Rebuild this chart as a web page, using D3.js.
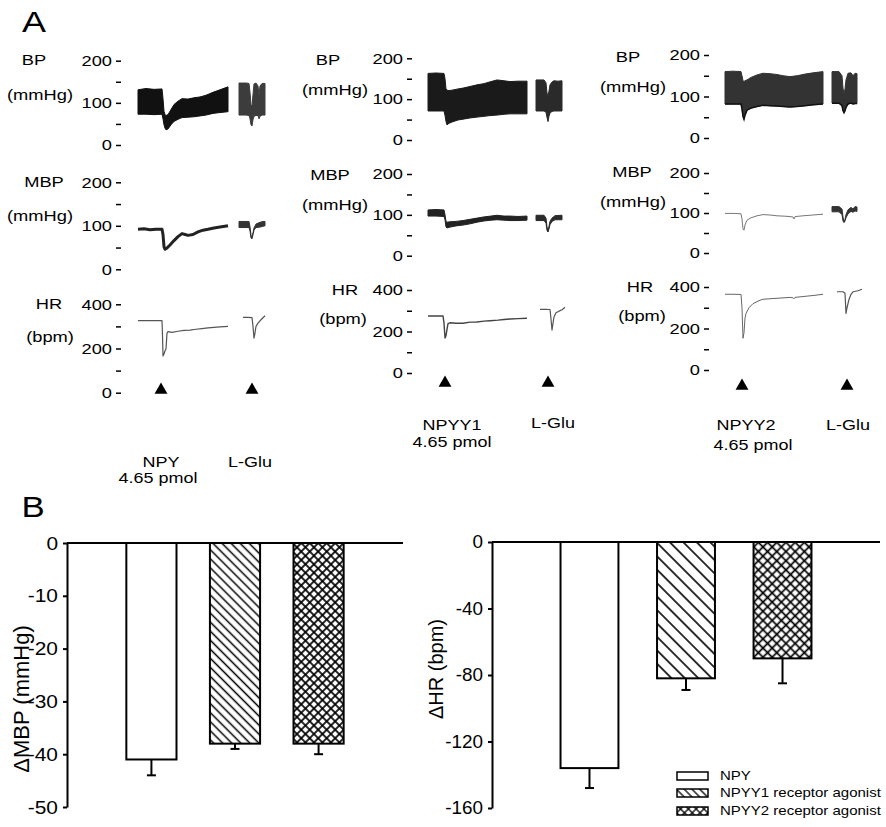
<!DOCTYPE html>
<html>
<head>
<meta charset="utf-8">
<script src="https://cdn.jsdelivr.net/npm/d3@7"></script>
<style>
  body { margin: 0; background: #fff; }
  svg { display: block; font-family: "Liberation Sans", Arial, sans-serif; }
</style>
</head>
<body>
<div id="chart"></div>
<script>
// ---------- Panel A: recordings (time in arbitrary units, values in mmHg / bpm) ----------
// BP traces are bands: [t, systolic, diastolic]
const bp1Main = [[0,131,73],[8,134,73],[16,132,72],[24,133,73],[25,110,62],[26,80,48],[27,72,40],[28,70,36],[30,72,38],[33,84,48],[36,96,56],[40,104,61],[44,110,65],[50,109,66],[56,112,67],[62,114,69],[68,118,71],[75,125,75],[82,131,77],[90,138,79]];
const bp1Glu = [[101,147,71],[108,147,71],[111,146,70],[112,125,62],[113,95,48],[114,92,45],[115,120,60],[116,145,68],[118,147,70],[120,140,70],[121,118,62],[122,140,68],[124,146,71],[127,146,71]];
const mbp1Main = [[0,92],[6,93],[12,91],[18,92],[24,92],[25,80],[26,52],[27,46],[29,49],[32,56],[36,66],[40,75],[44,82],[47,80],[50,78],[55,80],[60,86],[65,90],[70,92],[76,95],[82,97],[90,100]];
const mbp1Glu = [[101,110,96],[111,110,96],[112,98,88],[113,78,72],[114,74,70],[115,84,80],[116,95,90],[118,104,96],[122,108,97],[125,110,99],[127,110,100]];
const hr1Main = [[0,326],[12,326],[24,326],[24.5,260],[25,166],[26,175],[27,190],[28,198],[29,270],[30,276],[34,273],[40,278],[46,282],[52,283],[58,287],[64,290],[70,293],[76,296],[82,298],[90,300]];
const hr1Glu = [[105,341],[110,341],[114,340],[115,300],[116,247],[117,270],[118,300],[120,315],[123,330],[127,348]];

const bp2Main = [[0,163,71],[8,164,71],[16,163,71],[17,150,60],[18,125,45],[19,122,37],[21,121,41],[24,122,44],[30,125,49],[35,127,51],[42,131,54],[49,135,56],[56,138,58],[63,143,60],[69,147,61],[76,145,63],[82,143,64],[90,144,64],[99,144,64]];
const bp2Glu = [[108,147,71],[116,147,71],[118,140,68],[119,115,55],[120,108,45],[121,120,58],[122,135,66],[124,142,70],[126,145,71],[130,144,71],[134,145,71]];
const mbp2Main = [[0,112,97],[8,113,97],[16,112,96],[17,100,88],[18,84,70],[19,82,68],[22,83,70],[28,84,73],[35,86,75],[42,89,78],[49,92,82],[56,95,85],[63,97,87],[69,99,88],[76,97,87],[82,97,86],[90,96,86],[99,97,87]];
const mbp2Glu = [[108,99,86],[116,99,86],[118,92,80],[119,70,62],[120,60,58],[121,72,66],[122,84,76],[124,92,84],[127,98,88],[134,99,88]];
const hr2Main = [[0,275],[8,275],[15,275],[16,240],[17,169],[18,180],[19,210],[20,238],[22,242],[28,240],[35,240],[42,245],[49,246],[56,250],[62,252],[70,255],[76,258],[82,260],[90,262],[99,264]];
const hr2Glu = [[112,307],[118,307],[122,306],[123,260],[124,207],[125,240],[126,270],[128,290],[131,298],[134,305],[137,317]];

const bp3Main = [[0,160,82],[8,161,82],[16,160,82],[17,150,70],[18,138,52],[19,136,45],[20,138,55],[22,140,67],[26,146,72],[32,152,76],[38,156,79],[45,155,78],[52,153,77],[58,150,76],[65,148,75],[72,150,76],[80,154,78],[88,157,80],[98,160,82]];
const bp3Glu = [[107,160,84],[114,160,84],[117,150,78],[118,120,66],[119,108,61],[120,118,66],[121,140,74],[123,156,82],[126,157,84],[128,150,82],[130,156,83],[132,155,83]];
const mbp3Main = [[0,99],[8,99],[16,98],[17,85],[18,60],[19,57],[20,70],[22,82],[26,88],[32,93],[38,96],[45,95],[52,93],[60,92],[65,91],[68,90],[69,85],[70,91],[78,93],[88,95],[98,97]];
const mbp3Glu = [[107,116,103],[114,116,103],[117,110,96],[118,90,80],[119,78,76],[120,84,80],[121,96,88],[123,108,98],[126,114,104],[128,110,102],[130,116,105],[132,115,104]];
const hr3Main = [[0,365],[8,365],[16,364],[17,300],[18,153],[19,180],[20,250],[21,273],[24,300],[28,320],[34,334],[38,341],[50,345],[65,350],[68,348],[69,343],[70,350],[80,355],[90,360],[98,365]];
const hr3Glu = [[112,377],[118,377],[120,370],[121,273],[122,300],[124,340],[126,365],[128,377],[133,382],[137,389]];

const pressureTicks = [0, 50, 100, 150, 200];
const pressureMajor = [0, 100, 200];
const hrTicks = [0, 100, 200, 300, 400];
const hrMajor = [0, 200, 400];

// ---------- Panel B: mean changes ----------
const groups = ['NPY', 'NPYY1 receptor agonist', 'NPYY2 receptor agonist'];
const dMbp = [-41, -38, -38];
const dMbpErr = [3, 1, 2];
const dHr = [-136, -82, -70];
const dHrErr = [12, 7, 15];
const mbpTicks = [0, -10, -20, -30, -40, -50];
const hrBarTicks = [0, -40, -80, -120, -160];

const SX = 1.2; // the source figure's lettering is a bit wider than Arial

const svg = d3.select('#chart').append('svg')
  .attr('width', 886).attr('height', 827);

function label(g, s, x, y, size, anchor, sx) {
  return g.append('text')
    .attr('transform', `translate(${x},${y}) scale(${sx || SX},1)`)
    .attr('text-anchor', anchor || 'middle')
    .attr('dy', '0.35em')
    .style('font-size', size + 'px')
    .text(s);
}

// ---------- Panel A ----------
const columns = [
  {
    x0: 138, axisX: 121,
    rows: { bp: [145, 60.7], mbp: [269.3, 182.3], hr: [392.7, 304.3] },
    traces: [
      { row: 'bp', band: true, data: bp1Main, color: '#111' },
      { row: 'bp', band: true, data: bp1Glu, color: '#3c3c3c' },
      { row: 'mbp', band: false, data: mbp1Main, color: '#222', w: 3 },
      { row: 'mbp', band: true, data: mbp1Glu, color: '#333' },
      { row: 'hr', band: false, data: hr1Main, color: '#555', w: 1.2 },
      { row: 'hr', band: false, data: hr1Glu, color: '#555', w: 1.2 }
    ],
    marks: [23, 114], markY: 390,
    rowLabels: [['BP', 34, 60], ['(mmHg)', 40, 95], ['MBP', 44, 182], ['(mmHg)', 40, 216], ['HR', 49, 304], ['(bpm)', 50, 337]],
    notes: [['NPY', 161, 462], ['4.65 pmol', 158, 478], ['L-Glu', 250, 462]]
  },
  {
    x0: 428, axisX: 412,
    rows: { bp: [140, 58.3], mbp: [255.7, 174], hr: [373, 290] },
    traces: [
      { row: 'bp', band: true, data: bp2Main, color: '#1a1a1a' },
      { row: 'bp', band: true, data: bp2Glu, color: '#2a2a2a' },
      { row: 'mbp', band: true, data: mbp2Main, color: '#222' },
      { row: 'mbp', band: true, data: mbp2Glu, color: '#2a2a2a' },
      { row: 'hr', band: false, data: hr2Main, color: '#444', w: 1.4 },
      { row: 'hr', band: false, data: hr2Glu, color: '#555', w: 1.2 }
    ],
    marks: [17, 120], markY: 383,
    rowLabels: [['BP', 328, 60], ['(mmHg)', 335, 90], ['MBP', 330, 175], ['(mmHg)', 335, 205], ['HR', 345, 290], ['(bpm)', 343, 319]],
    notes: [['NPYY1', 452, 425], ['4.65 pmol', 452, 442], ['L-Glu', 553, 423]]
  },
  {
    x0: 725, axisX: 709,
    rows: { bp: [138, 55], mbp: [253, 173], hr: [370, 287] },
    traces: [
      { row: 'bp', band: true, data: bp3Main, color: '#333', edge: '#111' },
      { row: 'bp', band: true, data: bp3Glu, color: '#333', edge: '#111' },
      { row: 'mbp', band: false, data: mbp3Main, color: '#777', w: 1 },
      { row: 'mbp', band: true, data: mbp3Glu, color: '#333' },
      { row: 'hr', band: false, data: hr3Main, color: '#666', w: 1 },
      { row: 'hr', band: false, data: hr3Glu, color: '#555', w: 1.2 }
    ],
    marks: [17, 122], markY: 386,
    rowLabels: [['BP', 628, 57], ['(mmHg)', 633, 87], ['MBP', 632, 172], ['(mmHg)', 633, 202], ['HR', 640, 287], ['(bpm)', 642, 316]],
    notes: [['NPYY2', 746, 425], ['4.65 pmol', 753, 445], ['L-Glu', 848, 425]]
  }
];

const panelA = svg.append('g');
label(panelA, 'A', 34, 21, 30, 'middle');

columns.forEach(col => {
  const g = panelA.append('g');
  const x = d3.scaleLinear().domain([0, 138]).range([col.x0, col.x0 + 138]);
  const y = {
    bp: d3.scaleLinear().domain([0, 200]).range(col.rows.bp),
    mbp: d3.scaleLinear().domain([0, 200]).range(col.rows.mbp),
    hr: d3.scaleLinear().domain([0, 400]).range(col.rows.hr)
  };

  // axes: labelled major ticks, bare minor ticks, no axis line
  ['bp', 'mbp', 'hr'].forEach(r => {
    const ticks = r === 'hr' ? hrTicks : pressureTicks;
    const major = r === 'hr' ? hrMajor : pressureMajor;
    const ax = g.append('g')
      .attr('transform', `translate(${col.axisX},0)`)
      .call(d3.axisLeft(y[r]).tickValues(ticks).tickSize(5).tickPadding(4)
        .tickFormat(d => major.includes(d) ? String(d) : ''));
    ax.select('.domain').remove();
    ax.selectAll('.tick line').attr('stroke', '#000').attr('stroke-width', 1.5);
    ax.selectAll('.tick text')
      .attr('x', -9 / 1.22).attr('transform', 'scale(1.22,1)')
      .style('font-size', '15px').attr('fill', '#000')
      .style('font-family', '"Liberation Sans", Arial, sans-serif');
  });

  col.traces.forEach(tr => {
    const yy = y[tr.row];
    if (tr.band) {
      g.append('path').datum(tr.data)
        .attr('d', d3.area().x(d => x(d[0])).y0(d => yy(d[2])).y1(d => yy(d[1])))
        .attr('fill', tr.color).attr('stroke', tr.color).attr('stroke-width', 1);
      if (tr.edge) {
        g.append('path').datum(tr.data)
          .attr('d', d3.line().x(d => x(d[0])).y(d => yy(d[2])))
          .attr('fill', 'none').attr('stroke', tr.edge).attr('stroke-width', 1.5);
      }
    } else {
      g.append('path').datum(tr.data)
        .attr('d', d3.line().x(d => x(d[0])).y(d => yy(d[1])))
        .attr('fill', 'none').attr('stroke', tr.color)
        .attr('stroke-width', tr.w).attr('stroke-linejoin', 'round');
    }
  });

  g.selectAll('path.mark').data(col.marks).join('path')
    .attr('class', 'mark')
    .attr('transform', d => `translate(${x(d)},${col.markY})`)
    .attr('d', d3.symbol(d3.symbolTriangle, 72))
    .attr('fill', '#000');

  col.rowLabels.forEach(([s, lx, ly]) => label(g, s, lx, ly, 15, 'middle', 1.22));
  col.notes.forEach(([s, lx, ly]) => label(g, s, lx, ly, 15, 'middle', 1.2));
});

// ---------- Panel B ----------
const panelB = svg.append('g');
label(panelB, 'B', 33, 507, 29, 'middle');

const defs = svg.append('defs');
function hatch(id, s, cross, w) {
  const p = defs.append('pattern').attr('id', id)
    .attr('patternUnits', 'userSpaceOnUse')
    .attr('width', s).attr('height', s)
    .attr('patternTransform', 'rotate(45)');
  p.append('rect').attr('width', s).attr('height', s).attr('fill', '#fff');
  p.append('line').attr('x1', 0).attr('x2', s).attr('y1', s / 2).attr('y2', s / 2)
    .attr('stroke', '#000').attr('stroke-width', w);
  if (cross) {
    p.append('line').attr('y1', 0).attr('y2', s).attr('x1', s / 2).attr('x2', s / 2)
      .attr('stroke', '#000').attr('stroke-width', w);
  }
}
hatch('diagL', 6.4, false, 1.5);
hatch('crossL', 6, true, 1.7);
hatch('diagR', 9.5, false, 1.6);
hatch('crossR', 6.5, true, 1.7);
hatch('diagS', 5.5, false, 1.3);
hatch('crossS', 5.5, true, 1.3);

function barChart(opt) {
  const g = panelB.append('g');
  const x = d3.scaleBand().domain(groups).range(opt.xr)
    .paddingInner(0.4).paddingOuter(0.71);
  const y = d3.scaleLinear().domain(opt.domain).range(opt.yr);

  const ax = g.append('g').attr('transform', `translate(${opt.xr[0]},0)`)
    .call(d3.axisLeft(y).tickValues(opt.ticks).tickSize(4).tickSizeOuter(0).tickPadding(5)
      .tickFormat(d => String(d)));
  ax.select('.domain').attr('stroke-width', 2);
  ax.selectAll('.tick line').attr('stroke-width', 2);
  ax.selectAll('.tick text')
    .attr('x', -9 / opt.sx).attr('transform', `scale(${opt.sx},1)`)
    .style('font-size', opt.font + 'px')
    .style('font-family', '"Liberation Sans", Arial, sans-serif');

  g.selectAll('rect.bar').data(groups).join('rect')
    .attr('class', 'bar')
    .attr('x', d => x(d)).attr('width', x.bandwidth())
    .attr('y', y(0)).attr('height', (d, i) => y(opt.values[i]) - y(0))
    .attr('fill', (d, i) => opt.fills[i])
    .attr('stroke', '#000').attr('stroke-width', 2);

  const eb = g.selectAll('g.err').data(groups).join('g').attr('class', 'err');
  eb.append('line')
    .attr('x1', d => x(d) + x.bandwidth() / 2).attr('x2', d => x(d) + x.bandwidth() / 2)
    .attr('y1', (d, i) => y(opt.values[i])).attr('y2', (d, i) => y(opt.values[i] - opt.errs[i]))
    .attr('stroke', '#000').attr('stroke-width', 2);
  eb.append('line')
    .attr('x1', d => x(d) + x.bandwidth() / 2 - opt.cap).attr('x2', d => x(d) + x.bandwidth() / 2 + opt.cap)
    .attr('y1', (d, i) => y(opt.values[i] - opt.errs[i])).attr('y2', (d, i) => y(opt.values[i] - opt.errs[i]))
    .attr('stroke', '#000').attr('stroke-width', 2);

  g.append('line')
    .attr('x1', opt.xr[0]).attr('x2', opt.xr[1])
    .attr('y1', y(0)).attr('y2', y(0))
    .attr('stroke', '#000').attr('stroke-width', 2);

  g.append('text')
    .attr('transform', `translate(${opt.labelX},${opt.labelY}) rotate(-90)`)
    .attr('text-anchor', 'middle').attr('dy', '0.35em')
    .style('font-size', opt.labelFont + 'px')
    .text(opt.title);
  return { g, x, y };
}

barChart({
  xr: [67, 403], yr: [807, 543], domain: [-50, 0], ticks: mbpTicks,
  values: dMbp, errs: dMbpErr, fills: ['#fff', 'url(#diagL)', 'url(#crossL)'],
  cap: 4.5, font: 19, sx: 1.1,
  title: '\u0394MBP (mmHg)', labelX: 21, labelY: 699, labelFont: 22
});

barChart({
  xr: [492, 880], yr: [808, 542], domain: [-160, 0], ticks: hrBarTicks,
  values: dHr, errs: dHrErr, fills: ['#fff', 'url(#diagR)', 'url(#crossR)'],
  cap: 4.5, font: 18, sx: 1.05,
  title: '\u0394HR (bpm)', labelX: 436, labelY: 669, labelFont: 20
});

// legend
const legendFills = ['#fff', 'url(#diagS)', 'url(#crossS)'];
const legendY = [776, 793, 811];
const legend = panelB.append('g');
groups.forEach((s, i) => {
  legend.append('rect')
    .attr('x', 677).attr('y', legendY[i] - 4).attr('width', 31).attr('height', 8)
    .attr('fill', legendFills[i]).attr('stroke', '#000').attr('stroke-width', 1.5);
  label(legend, s, 720, legendY[i], 12.5, 'start', 1.2);
});
</script>
</body>
</html>
